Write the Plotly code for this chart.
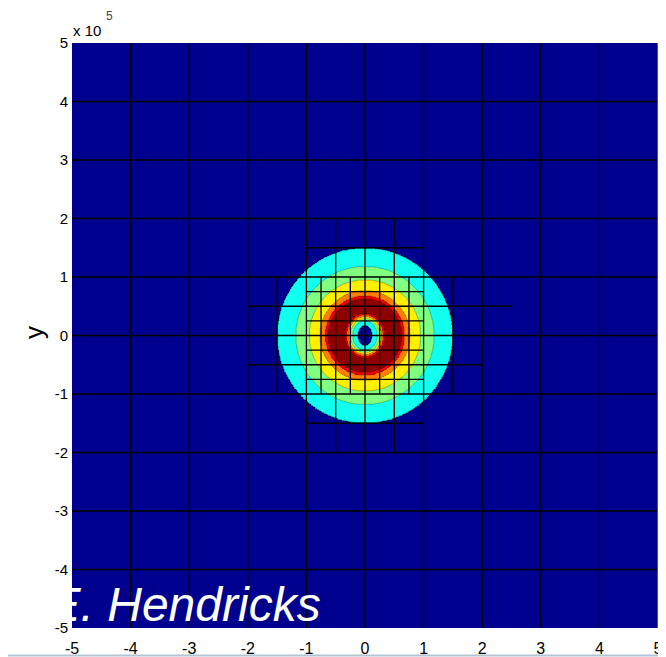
import numpy as np
import plotly.graph_objects as go

SCALE = 1e5  # axis unit (x 10^5)

# ---- data ----
tick_vals = [-5, -4, -3, -2, -1, 0, 1, 2, 3, 4, 5]
tick_labels = [str(v) for v in tick_vals]

# concentric rings (radius in 1e5 m) and the colour level inside each radius
ring_radius = [1.50, 1.18, 0.95, 0.77, 0.68, 0.63]
ring_level = [3, 4, 5, 6, 7, 8]
# eye region: ellipse semi-axes (1e5 m) and level inside each ellipse
eye_rx = [0.34, 0.31, 0.28, 0.25, 0.21, 0.12]
eye_ry = [0.38, 0.35, 0.32, 0.29, 0.25, 0.17]
eye_level = [7, 6, 5, 4, 3, 0]

level_colors = ['#00008F', '#0000FF', '#0080FF', '#10FFEF', '#80FF80',
                '#FFF000', '#FF8000', '#F00000', '#8F0000']

# mesh (AMR grid) lines, in 1e5 m
coarse_lines = [-4, -3, -2, -1, 0, 1, 2, 3, 4]
patch_v_lines = [(-1.5, -1, 1), (1.5, -1, 1), (-0.5, -2, 2), (0.5, -2, 2),
                 (-0.75, -1, 1), (-0.25, -1, 1), (0.25, -1, 1), (0.75, -1, 1)]
patch_h_lines = [(1.5, -1, 1), (-1.5, -1, 1), (0.5, -2, 2.5), (-0.5, -2, 2),
                 (0.75, -1, 1), (0.25, -1, 1), (-0.25, -1, 1), (-0.75, -1, 1)]

watermark = 'E. Hendricks'
watermark_pos = (-5.40, -4.67)   # start of text, in 1e5 m

# ---- build level field from ring data (step field) ----
g = np.round(np.arange(-1.6, 1.6001, 0.01), 4)
X, Y = np.meshgrid(g, g)
R = np.hypot(X, Y)
Z = np.zeros_like(R)
for rad, lev in zip(ring_radius, ring_level):
    Z[R <= rad] = lev
for rx, ry, lev in zip(eye_rx, eye_ry, eye_level):
    Z[(X / rx) ** 2 + (Y / ry) ** 2 <= 1] = lev

n = len(level_colors)
cscale = []
for i, c in enumerate(level_colors):
    cscale.append([i / n, c])
    cscale.append([(i + 1) / n, c])

fig = go.Figure()
fig.add_trace(go.Heatmap(
    x=g * SCALE, y=g * SCALE, z=Z, zmin=-0.5, zmax=n - 0.5,
    colorscale=cscale, showscale=False, zsmooth=False, hoverinfo='skip'))
fig.add_trace(go.Contour(
    x=g * SCALE, y=g * SCALE, z=Z,
    contours=dict(start=0.5, end=n - 1.5, size=1, coloring='lines'),
    colorscale=[[0, '#000000'], [1, '#000000']], showscale=False,
    line=dict(width=0.6), opacity=0.45, hoverinfo='skip'))

# mesh lines
lx, ly = [], []
lim = 5
for c in coarse_lines:
    lx += [c * SCALE, c * SCALE, None]
    ly += [-lim * SCALE, lim * SCALE, None]
    lx += [-lim * SCALE, lim * SCALE, None]
    ly += [c * SCALE, c * SCALE, None]
for x0, y0, y1 in patch_v_lines:
    lx += [x0 * SCALE, x0 * SCALE, None]
    ly += [y0 * SCALE, y1 * SCALE, None]
for y0, x0, x1 in patch_h_lines:
    lx += [x0 * SCALE, x1 * SCALE, None]
    ly += [y0 * SCALE, y0 * SCALE, None]
fig.add_trace(go.Scatter(x=lx, y=ly, mode='lines',
                         line=dict(color='black', width=1.3),
                         hoverinfo='skip', showlegend=False))

# watermark text, clipped by the plot area like the original
fig.add_trace(go.Scatter(
    x=[watermark_pos[0] * SCALE], y=[watermark_pos[1] * SCALE],
    mode='text', text=[watermark], textposition='middle right',
    textfont=dict(family='Liberation Sans, Arial', size=48, color='white', style='italic'),
    cliponaxis=True, hoverinfo='skip', showlegend=False))

axis_common = dict(
    range=[-5 * SCALE, 5 * SCALE], tickvals=[v * SCALE for v in tick_vals],
    ticktext=tick_labels, showgrid=False, zeroline=False, showline=False,
    ticks='inside', ticklen=5, tickcolor='black', automargin=False,
    ticklabeloverflow='allow')

# the page body adds an 8 px offset, so the figure is 8 px smaller than the window
fig.update_layout(
    width=658, height=649,
    margin=dict(l=64, r=8, t=35, b=29),
    paper_bgcolor='white', plot_bgcolor='#00008F',
    showlegend=False,
    xaxis=dict(**axis_common, ticklabelstandoff=9,
               tickfont=dict(family='Liberation Sans, Arial', size=16, color='black')),
    yaxis=dict(**axis_common, ticklabelstandoff=3,
               tickfont=dict(family='Liberation Sans, Arial', size=15, color='black')),
)

fig.add_annotation(text='y', xref='paper', yref='paper', x=-0.066, y=0.505,
                   textangle=-90, showarrow=False, xanchor='center', yanchor='middle',
                   font=dict(family='Liberation Sans, Arial', size=26, color='black'))
fig.add_annotation(text='x 10', xref='paper', yref='paper', x=-0.002, y=1.022,
                   showarrow=False, xanchor='left', yanchor='middle',
                   font=dict(family='Liberation Sans, Arial', size=15, color='black'))
fig.add_annotation(text='5', xref='paper', yref='paper', x=0.054, y=1.047,
                   showarrow=False, xanchor='left', yanchor='middle',
                   font=dict(family='Liberation Sans, Arial', size=12, color='#444444'))

fig.add_shape(type='line', xref='paper', yref='paper', x0=1, x1=1, y0=0, y1=1,
              line=dict(color='#9a9a9a', width=1))
fig.add_shape(type='line', xref='paper', yref='paper', x0=-0.2, x1=1.1, y0=-0.047, y1=-0.047,
              line=dict(color='#b4c4d4', width=2))

fig.write_html('out.html')
